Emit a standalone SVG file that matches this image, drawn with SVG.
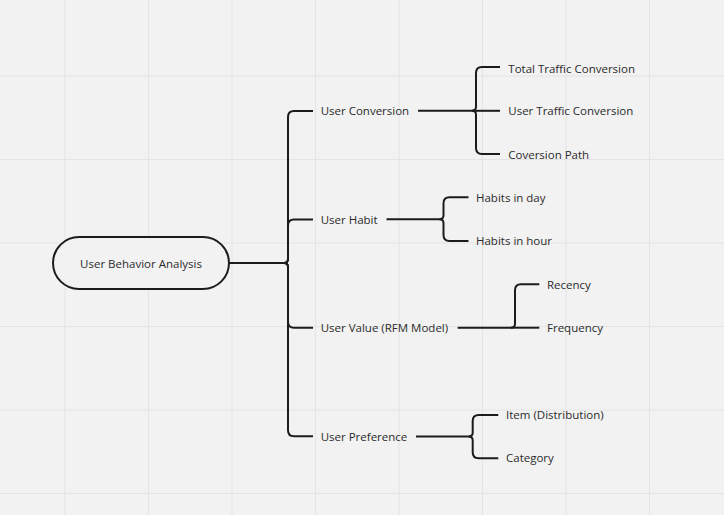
<svg xmlns="http://www.w3.org/2000/svg" width="724" height="515" viewBox="0 0 724 515">
<style>
.grid line{stroke:#e4e4e4;stroke-width:1}
.c path{fill:none;stroke:#1c1c1c;stroke-width:2;stroke-linecap:butt}
text{font-family:"Open Sans","Noto Sans","Liberation Sans",sans-serif;font-size:11.5px;fill:#2b2b2b}
.root rect{fill:#f2f2f2;stroke:#1c1c1c;stroke-width:2}
</style>
<rect width="724" height="515" fill="#f2f2f2"/>
<g class="grid">
<line x1="65" y1="0" x2="65" y2="515"/><line x1="148.5" y1="0" x2="148.5" y2="515"/><line x1="232" y1="0" x2="232" y2="515"/><line x1="315.5" y1="0" x2="315.5" y2="515"/><line x1="399" y1="0" x2="399" y2="515"/><line x1="482.5" y1="0" x2="482.5" y2="515"/><line x1="566" y1="0" x2="566" y2="515"/><line x1="649.5" y1="0" x2="649.5" y2="515"/>
<line x1="0" y1="76" x2="724" y2="76"/><line x1="0" y1="159.5" x2="724" y2="159.5"/><line x1="0" y1="243" x2="724" y2="243"/><line x1="0" y1="326.5" x2="724" y2="326.5"/><line x1="0" y1="410" x2="724" y2="410"/><line x1="0" y1="493.5" x2="724" y2="493.5"/>
</g>
<g class="c" id="connectors">
<path d="M229 263 H284 Q288 263 288 259 V117 Q288 111 294 111 H313"/>
<path d="M229 263 H284 Q288 263 288 259 V225.6 Q288 219.6 294 219.6 H313"/>
<path d="M284 263 Q288 263 288 267 V321.8 Q288 327.8 294 327.8 H313"/>
<path d="M284 263 Q288 263 288 267 V430.2 Q288 436.2 294 436.2 H313"/>
<path d="M418 110.8 H472 Q476 110.8 476 106.8 V73 Q476 67 482 67 H500"/>
<path d="M472 110.8 H500"/>
<path d="M472 110.8 Q476 110.8 476 114.8 V148 Q476 154 482 154 H500"/>
<path d="M386.5 219.2 H439.5 Q443.5 219.2 443.5 215.2 V203.3 Q443.5 197.3 449.5 197.3 H468.5"/>
<path d="M439.5 219.2 Q443.5 219.2 443.5 223.2 V235 Q443.5 241 449.5 241 H468.5"/>
<path d="M457.7 327.7 H511 Q515 327.7 515 323.7 V290.3 Q515 284.3 521 284.3 H539.3"/>
<path d="M511 327.7 H539.3"/>
<path d="M416 436.6 H468.7 Q472.7 436.6 472.7 432.6 V421 Q472.7 415 478.7 415 H498.3"/>
<path d="M468.7 436.6 Q472.7 436.6 472.7 440.6 V452.3 Q472.7 458.3 478.7 458.3 H498.3"/>
</g>
<g id="root" class="root"><rect x="53" y="237" width="176" height="52" rx="26"/><text x="141" y="267.5" text-anchor="middle">User Behavior Analysis</text></g>
<g id="user-conversion"><text x="320.7" y="115">User Conversion</text></g>
<g id="user-habit"><text x="320.7" y="224">User Habit</text></g>
<g id="user-value"><text x="320.7" y="332">User Value (RFM Model)</text></g>
<g id="user-preference"><text x="320.7" y="440.5">User Preference</text></g>
<g id="total-traffic"><text x="508.3" y="72.7">Total Traffic Conversion</text></g>
<g id="user-traffic"><text x="508.3" y="115">User Traffic Conversion</text></g>
<g id="conversion-path"><text x="508.3" y="158.5">Coversion Path</text></g>
<g id="habits-day"><text x="476" y="202">Habits in day</text></g>
<g id="habits-hour"><text x="476" y="245">Habits in hour</text></g>
<g id="recency"><text x="547" y="289">Recency</text></g>
<g id="frequency"><text x="547" y="332">Frequency</text></g>
<g id="item"><text x="506" y="419">Item (Distribution)</text></g>
<g id="category"><text x="506" y="462">Category</text></g>
</svg>
